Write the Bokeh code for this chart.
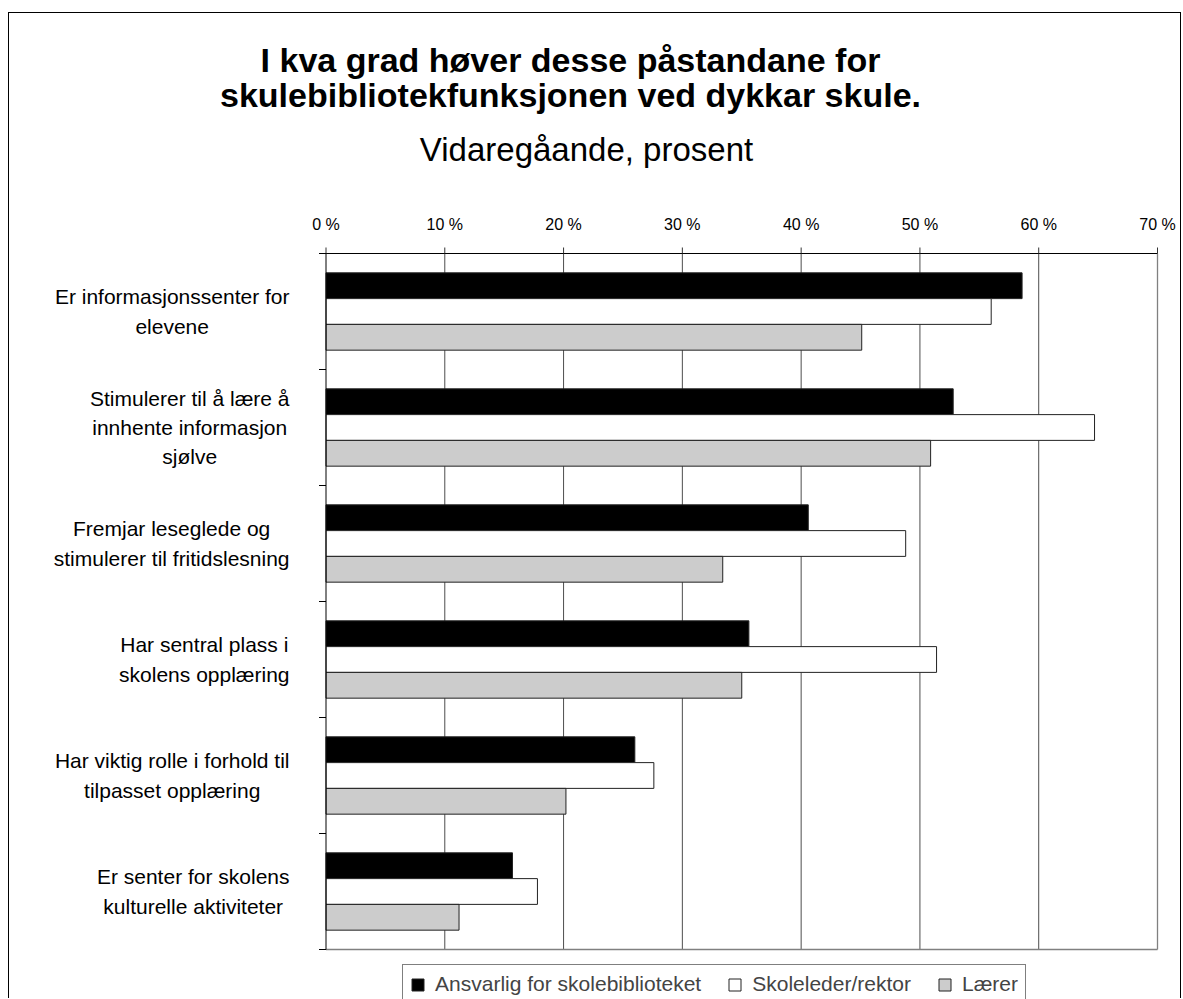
from bokeh.plotting import figure
from bokeh.models import ColumnDataSource, Range1d, Legend, LegendItem
from bokeh.core.properties import value
from bokeh.embed import file_html
from bokeh.resources import INLINE

# ---------------- data ----------------
categories = [
    "Er informasjonssenter for\nelevene",
    "Stimulerer til å lære å\ninnhente informasjon\nsjølve",
    "Fremjar leseglede og\nstimulerer til fritidslesning",
    "Har sentral plass i\nskolens opplæring",
    "Har viktig rolle i forhold til\ntilpasset opplæring",
    "Er senter for skolens\nkulturelle aktiviteter",
]
series_names = ["Ansvarlig for skolebiblioteket", "Skoleleder/rektor", "Lærer"]
ansvarlig = [58.6, 52.8, 40.6, 35.6, 26.0, 15.7]
skoleleder = [56.0, 64.7, 48.8, 51.4, 27.6, 17.8]
laerer = [45.1, 50.9, 33.4, 35.0, 20.2, 11.2]
tick_values = [0, 10, 20, 30, 40, 50, 60, 70]
tick_labels = ["0 %", "10 %", "20 %", "30 %", "40 %", "50 %", "60 %", "70 %"]
title_lines = ["I kva grad høver desse påstandane for",
               "skulebibliotekfunksjonen ved dykkar skule."]
subtitle = "Vidaregåande, prosent"

# ---------------- layout (canvas pixels) ----------------
FONT = "Liberation Sans"
colors = ["#000000", "#ffffff", "#cccccc"]
W, H = 1173, 986               # canvas size (page offset 9, 13 incl. border)
PLOT_L, PLOT_R = 316.5, 1148.0  # 0 % and 70 % positions
PLOT_T, PLOT_B = 240.0, 936.0   # top / bottom of plot area
n = len(categories)
bar_h = 1 / 4.5
offsets = [-bar_h, 0.0, bar_h]

PX_X = (PLOT_R - PLOT_L) / (tick_values[-1] - tick_values[0])
x_start = tick_values[0] - PLOT_L / PX_X
PX_Y = (PLOT_B - PLOT_T) / n
y_top = -0.5 - PLOT_T / PX_Y


def xd(px):
    return x_start + px / PX_X


def yd(py):
    return y_top + py / PX_Y


# Arial / Liberation Sans advance widths (1/1000 em) for centring label blocks
AW = {" ": 278, "a": 556, "b": 556, "c": 500, "d": 556, "e": 556, "f": 278, "g": 556,
      "h": 556, "i": 222, "j": 222, "k": 500, "l": 222, "m": 833, "n": 556, "o": 556,
      "p": 556, "r": 333, "s": 500, "t": 278, "u": 556, "v": 500, "y": 500, "å": 556,
      "æ": 889, "ø": 611, "E": 667, "S": 667, "F": 611, "H": 722, "L": 556, "A": 667,
      "/": 278}


def text_width(s, size):
    return max(sum(AW.get(c, 556) for c in line) for line in s.split("\n")) * size / 1000.0


p = figure(width=W, height=H, output_backend="svg", toolbar_location=None,
           x_range=Range1d(x_start, x_start + W / PX_X),
           y_range=Range1d(y_top + H / PX_Y, y_top),
           x_axis_type=None, y_axis_type=None,
           min_border=0, min_border_left=0, min_border_right=0,
           min_border_top=0, min_border_bottom=0,
           background_fill_color="white", border_fill_color="white",
           outline_line_color=None,
           styles={"margin-left": "8px", "margin-top": "12px",
                   "border-left": "1px solid #000", "border-top": "1px solid #000",
                   "border-right": "1px solid #000"})

y_first, y_last = -0.5, n - 0.5
boundaries = [i - 0.5 for i in range(n + 1)]

# vertical gridlines (inner dark, outer 70 % grey)
p.segment(x0=tick_values[1:-1], y0=y_first, x1=tick_values[1:-1], y1=y_last,
          line_color="#4d4d4d", line_width=1)
p.segment(x0=[tick_values[-1]], y0=y_first, x1=[tick_values[-1]], y1=y_last,
          line_color="#808080", line_width=1.3)
# bottom border of plot area
p.segment(x0=[tick_values[0]], y0=y_last, x1=[tick_values[-1]], y1=y_last,
          line_color="#808080", line_width=1.3)

# bars
renderers = []
for vals, col, off in zip([ansvarlig, skoleleder, laerer], colors, offsets):
    src = ColumnDataSource(dict(y=[i + off for i in range(n)], right=vals))
    r = p.hbar(y="y", left=0, right="right", height=bar_h, source=src,
               fill_color=col, line_color="#222222", line_width=1)
    renderers.append(r)

# top value axis: line, ticks, labels
p.segment(x0=[tick_values[0]], y0=y_first, x1=[tick_values[-1]], y1=y_first,
          line_color="black", line_width=1)
p.segment(x0=tick_values, y0=y_first, x1=tick_values, y1=y_first - 6 / PX_Y,
          line_color="#333333", line_width=1)
p.text(x=tick_values, y=[yd(PLOT_T - 29)] * len(tick_values), text=tick_labels,
       text_align="center", text_baseline="middle", text_font=value(FONT),
       text_font_size="16px", text_color="black")

# left category axis: line, ticks between categories
p.segment(x0=[0], y0=y_first, x1=[0], y1=y_last, line_color="black", line_width=1)
p.segment(x0=[0] * len(boundaries), y0=boundaries, x1=[-7 / PX_X] * len(boundaries),
          y1=boundaries, line_color="black", line_width=1)

# category labels (lines centred, block right-aligned)
lab_size = 21
LAB_RIGHT = 280.0
p.text(x=[xd(LAB_RIGHT - text_width(c, lab_size) / 2) for c in categories],
       y=list(range(n)), text=categories,
       text_align="center", text_baseline="middle", text_font=value(FONT),
       text_font_size=f"{lab_size}px", text_line_height=1.27, text_color="black")

# titles
p.text(x=[xd(561)] * 2, y=[yd(46), yd(81)], text=title_lines,
       text_align="center", text_baseline="alphabetic", text_font=value(FONT),
       text_font_size="34px", text_font_style="bold", text_color="black")
p.text(x=[xd(577)], y=[yd(136)], text=[subtitle],
       text_align="center", text_baseline="alphabetic", text_font=value(FONT),
       text_font_size="33px", text_color="black")

# legend (box cut by the bottom edge like the reference)
leg_size, glyph, standoff, spacing, pad = 21, 15, 10, 26, 7
leg_w = 2 * pad + sum(glyph + standoff + text_width(s, leg_size) for s in series_names) \
    + spacing * (len(series_names) - 1)
leg_h = 2 * pad + 24
LEG_CX, LEG_TOP = 704.0, 953.0
legend = Legend(items=[LegendItem(label=nm, renderers=[r]) for nm, r in zip(series_names, renderers)],
                orientation="horizontal",
                location=(LEG_CX - leg_w / 2, H - LEG_TOP - leg_h), margin=0,
                padding=pad, spacing=spacing, label_standoff=standoff,
                glyph_width=glyph, glyph_height=glyph,
                label_text_font=FONT, label_text_font_size=f"{leg_size}px",
                border_line_color="black", border_line_width=1,
                background_fill_color="white", background_fill_alpha=1.0)
p.add_layout(legend)

open("out.html", "w").write(file_html(p, INLINE))
